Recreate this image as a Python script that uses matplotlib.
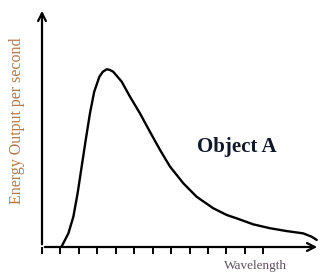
import numpy as np
import matplotlib
matplotlib.use("Agg")
import matplotlib.pyplot as plt

# ----- data (x in tick units, y relative to peak) -----
wavelength = [1.05, 1.43, 1.70, 1.93, 2.15, 2.37, 2.60, 2.83, 3.11, 3.30,
              3.51, 3.68, 3.86, 4.32, 4.77, 5.31, 5.85, 6.40, 6.94, 7.66,
              8.38, 9.28, 10.01, 10.55, 11.45, 12.36, 13.26, 14.16, 14.62,
              14.89]
energy = [0.0, 0.077, 0.171, 0.303, 0.454, 0.605, 0.755, 0.877, 0.962, 0.990,
          1.004, 1.0, 0.99, 0.934, 0.849, 0.755, 0.651, 0.548, 0.454, 0.360,
          0.284, 0.219, 0.181, 0.162, 0.128, 0.106, 0.090, 0.077, 0.058,
          0.040]
tick_positions = list(range(13))

object_label = "Object A"
x_label = "Wavelength"
y_label = "Energy Output per second"

# ----- figure -----
fig = plt.figure(figsize=(3.22, 2.75), dpi=100)
ax = fig.add_axes([42 / 322, 28 / 275, (320 - 42) / 322, (247 - 8) / 275])

ax.plot(wavelength, energy, color="black", lw=1.7,
        solid_capstyle="round", solid_joinstyle="round")

ax.set_xlim(0, 15.07)
ax.set_ylim(0, 1.35)

for s in ax.spines.values():
    s.set_visible(False)

# axis arrows
arrow = dict(arrowstyle="->", lw=1.6, color="black", mutation_scale=14)
ax.annotate("", xy=(1.0, 0), xytext=(0, 0), xycoords="axes fraction",
            arrowprops=arrow)
ax.annotate("", xy=(0, 1.0), xytext=(0, 0), xycoords="axes fraction",
            arrowprops=arrow)

ax.set_xticks(tick_positions)
ax.set_yticks([])
ax.tick_params(axis="x", direction="out", length=5, width=1.4,
               labelbottom=False, color="black")

ax.text(10.57, 0.565, object_label, fontsize=15, fontweight="bold",
        family="Liberation Serif", color="#101828", ha="center", va="center")

fig.text(255 / 322, 1 - 266 / 275, x_label, fontsize=9.5,
         family="Liberation Serif", color="#5e5060", ha="center", va="center")
fig.text(17 / 322, 1 - 121 / 275, y_label, fontsize=11.5, rotation=90,
         family="Liberation Serif", color="#b07a4a", ha="center", va="center")

fig.savefig("out.png", dpi=100)
